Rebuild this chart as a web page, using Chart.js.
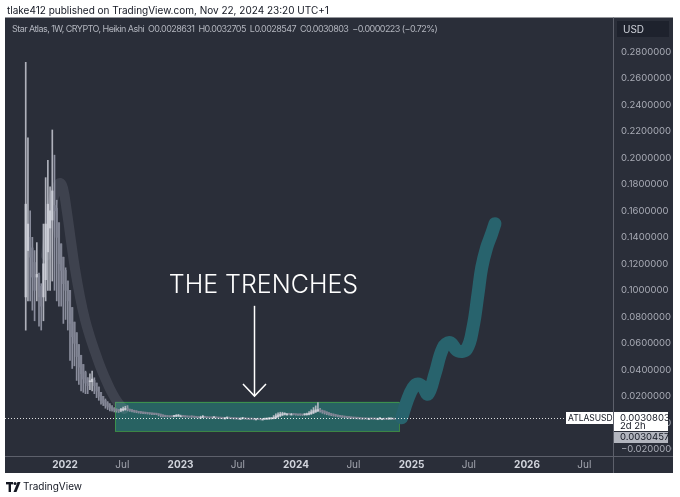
<!DOCTYPE html>
<html>
<head>
<meta charset="utf-8">
<script src="https://cdn.jsdelivr.net/npm/chart.js@4.4.1/dist/chart.umd.min.js"></script>
<style>
  html, body { margin: 0; padding: 0; background: #fff; }
  canvas { display: block; }
</style>
</head>
<body>
<canvas id="atlas" width="680" height="497"></canvas>
<script>
// ATLASUSD weekly Heikin Ashi candles, first candle = week of 30 Aug 2021 (decimal years)
const firstWeek = 2021.660;

const haOpen = [
  0.095, 0.130, 0.140, 0.132, 0.121, 0.110, 0.111, 0.103, 0.095, 0.108,
  0.129, 0.147, 0.153, 0.164, 0.162, 0.151, 0.135, 0.125, 0.115, 0.107,
  0.100, 0.087, 0.076, 0.068, 0.059, 0.051, 0.044, 0.038, 0.034, 0.031,
  0.031, 0.032, 0.030, 0.027, 0.023, 0.020, 0.017, 0.015, 0.0135, 0.012,
  0.011, 0.0102, 0.0097, 0.0094, 0.0096, 0.0100, 0.0104, 0.0102, 0.0098, 0.0094,
  0.0090, 0.0086, 0.0083, 0.0080, 0.0078, 0.0076, 0.0074, 0.0072, 0.0070, 0.0069,
  0.0067, 0.0065, 0.0060, 0.0056, 0.0053, 0.0050, 0.0049, 0.0048, 0.0049, 0.0051,
  0.0052, 0.0052, 0.0051, 0.0049, 0.0047, 0.0046, 0.0046, 0.0045, 0.0044, 0.0042,
  0.0042, 0.0043, 0.0042, 0.0041, 0.0040, 0.0039, 0.0040, 0.0039, 0.0038, 0.0037,
  0.0036, 0.0036, 0.0037, 0.0036, 0.0035, 0.0034, 0.0033, 0.0032, 0.0032, 0.0032,
  0.0032, 0.0031, 0.0030, 0.0029, 0.0029, 0.0029, 0.0028, 0.0028, 0.0028, 0.0028,
  0.0029, 0.0031, 0.0032, 0.0037, 0.0045, 0.0052, 0.0059, 0.0064, 0.0066, 0.0066,
  0.0066, 0.0066, 0.0065, 0.0064, 0.0062, 0.0062, 0.0061, 0.0061, 0.0063, 0.0068,
  0.0075, 0.0083, 0.0091, 0.0095, 0.0094, 0.0089, 0.0082, 0.0076, 0.0071, 0.0066,
  0.0062, 0.0058, 0.0055, 0.0052, 0.0049, 0.0047, 0.0045, 0.0043, 0.0041, 0.0039,
  0.0038, 0.0037, 0.0035, 0.0033, 0.0032, 0.0032, 0.0032, 0.0032, 0.0031, 0.0031,
  0.0031, 0.0031, 0.0031, 0.0030, 0.0029, 0.0029, 0.0030, 0.0030, 0.0028631
];
const haHigh = [
  0.272, 0.215, 0.160, 0.140, 0.130, 0.136, 0.113, 0.105, 0.150, 0.185,
  0.198, 0.178, 0.221, 0.202, 0.168, 0.151, 0.135, 0.125, 0.117, 0.107,
  0.100, 0.087, 0.076, 0.068, 0.059, 0.051, 0.044, 0.039, 0.034, 0.037,
  0.039, 0.034, 0.030, 0.027, 0.023, 0.020, 0.018, 0.016, 0.0145, 0.013,
  0.0115, 0.0106, 0.0100, 0.0110, 0.0118, 0.0125, 0.0130, 0.0104, 0.0099, 0.0095,
  0.0091, 0.0087, 0.0084, 0.0081, 0.0079, 0.0077, 0.0075, 0.0073, 0.0071, 0.0070,
  0.0068, 0.0066, 0.0061, 0.0057, 0.0054, 0.0051, 0.0050, 0.0056, 0.0062, 0.0063,
  0.0058, 0.0054, 0.0052, 0.0050, 0.0048, 0.0052, 0.0047, 0.0046, 0.0045, 0.0050,
  0.0055, 0.0047, 0.0044, 0.0042, 0.0041, 0.0046, 0.0042, 0.0040, 0.0039, 0.0038,
  0.0041, 0.0044, 0.0039, 0.0037, 0.0036, 0.0035, 0.0034, 0.0038, 0.0040, 0.0035,
  0.0033, 0.0032, 0.0031, 0.0030, 0.0033, 0.0031, 0.0029, 0.0032, 0.0034, 0.0036,
  0.0040, 0.0038, 0.0055, 0.0068, 0.0075, 0.0080, 0.0080, 0.0076, 0.0072, 0.0070,
  0.0071, 0.0068, 0.0066, 0.0065, 0.0066, 0.0064, 0.0068, 0.0073, 0.0085, 0.0098,
  0.0115, 0.0128, 0.0153, 0.0110, 0.0096, 0.0090, 0.0083, 0.0077, 0.0072, 0.0067,
  0.0063, 0.0059, 0.0056, 0.0053, 0.0050, 0.0048, 0.0046, 0.0044, 0.0042, 0.0040,
  0.0039, 0.0038, 0.0036, 0.0034, 0.0034, 0.0036, 0.0034, 0.0033, 0.0032, 0.0035,
  0.0038, 0.0034, 0.0032, 0.0031, 0.0037, 0.0036, 0.0032, 0.0031, 0.0032705
];
const haLow = [
  0.070, 0.092, 0.092, 0.085, 0.077, 0.092, 0.073, 0.070, 0.077, 0.092,
  0.100, 0.100, 0.107, 0.100, 0.092, 0.088, 0.088, 0.075, 0.078, 0.070,
  0.047, 0.041, 0.043, 0.032, 0.029, 0.024, 0.023, 0.022, 0.022, 0.025,
  0.024, 0.022, 0.019, 0.017, 0.014, 0.013, 0.011, 0.010, 0.009, 0.0088,
  0.0082, 0.0080, 0.0078, 0.0085, 0.0090, 0.0095, 0.0090, 0.0086, 0.0082, 0.0079,
  0.0076, 0.0073, 0.0071, 0.0069, 0.0068, 0.0066, 0.0064, 0.0062, 0.0062, 0.0061,
  0.0052, 0.0045, 0.0044, 0.0045, 0.0044, 0.0043, 0.0044, 0.0045, 0.0047, 0.0048,
  0.0047, 0.0045, 0.0043, 0.0042, 0.0041, 0.0041, 0.0040, 0.0038, 0.0036, 0.0038,
  0.0039, 0.0038, 0.0036, 0.0035, 0.0035, 0.0036, 0.0035, 0.0033, 0.0031, 0.0030,
  0.0032, 0.0033, 0.0032, 0.0030, 0.0028, 0.0027, 0.0026, 0.0028, 0.0029, 0.0027,
  0.0025, 0.0024, 0.0025, 0.0023, 0.0025, 0.0024, 0.0022, 0.0024, 0.0025, 0.0026,
  0.0027, 0.0028, 0.0030, 0.0034, 0.0041, 0.0048, 0.0055, 0.0059, 0.0060, 0.0059,
  0.0060, 0.0059, 0.0057, 0.0056, 0.0056, 0.0055, 0.0057, 0.0058, 0.0060, 0.0064,
  0.0070, 0.0078, 0.0085, 0.0080, 0.0072, 0.0066, 0.0061, 0.0057, 0.0054, 0.0050,
  0.0048, 0.0045, 0.0042, 0.0040, 0.0038, 0.0036, 0.0034, 0.0032, 0.0031, 0.0030,
  0.0029, 0.0027, 0.0025, 0.0026, 0.0027, 0.0028, 0.0027, 0.0026, 0.0026, 0.0027,
  0.0028, 0.0027, 0.0025, 0.0024, 0.0026, 0.0027, 0.0026, 0.0025, 0.0028547
];
const haClose = [
  0.165, 0.150, 0.125, 0.110, 0.100, 0.112, 0.095, 0.088, 0.120, 0.150,
  0.165, 0.160, 0.175, 0.160, 0.140, 0.120, 0.115, 0.105, 0.100, 0.092,
  0.075, 0.065, 0.060, 0.050, 0.042, 0.037, 0.033, 0.030, 0.028, 0.0315,
  0.033, 0.028, 0.024, 0.020, 0.017, 0.015, 0.013, 0.012, 0.011, 0.010,
  0.0095, 0.0092, 0.0090, 0.0098, 0.0105, 0.0108, 0.0100, 0.0094, 0.0090, 0.0086,
  0.0082, 0.0079, 0.0077, 0.0075, 0.0074, 0.0072, 0.0070, 0.0068, 0.0067, 0.0066,
  0.0062, 0.0056, 0.0052, 0.0050, 0.0048, 0.0047, 0.0047, 0.0050, 0.0053, 0.0054,
  0.0052, 0.0049, 0.0047, 0.0046, 0.0045, 0.0045, 0.0044, 0.0042, 0.0041, 0.0042,
  0.0043, 0.0042, 0.0040, 0.0039, 0.0039, 0.0040, 0.0039, 0.0037, 0.0036, 0.0035,
  0.0036, 0.0037, 0.0036, 0.0034, 0.0033, 0.0032, 0.0031, 0.0032, 0.0033, 0.0031,
  0.0030, 0.0029, 0.0029, 0.0028, 0.0029, 0.0028, 0.0027, 0.0028, 0.0029, 0.0030,
  0.0032, 0.0033, 0.0042, 0.0052, 0.0060, 0.0066, 0.0069, 0.0068, 0.0066, 0.0065,
  0.0066, 0.0064, 0.0062, 0.0061, 0.0061, 0.0060, 0.0062, 0.0065, 0.0072, 0.0082,
  0.0092, 0.0098, 0.0100, 0.0092, 0.0083, 0.0076, 0.0070, 0.0065, 0.0061, 0.0057,
  0.0054, 0.0051, 0.0048, 0.0046, 0.0044, 0.0042, 0.0040, 0.0038, 0.0037, 0.0036,
  0.0035, 0.0033, 0.0031, 0.0031, 0.0031, 0.0032, 0.0031, 0.0030, 0.0030, 0.0031,
  0.0032, 0.0031, 0.0029, 0.0028, 0.0030, 0.0031, 0.0029, 0.0028, 0.0030803
];

// wide translucent moving-average ribbon
const emaTimes  = [2021.836, 2021.887, 2021.931, 2021.957, 2021.983, 2022.017, 2022.052, 2022.087, 2022.130,
                   2022.173, 2022.216, 2022.260, 2022.303, 2022.346, 2022.390, 2022.433, 2022.476, 2022.511];
const emaValues = [0.126, 0.164, 0.178, 0.181, 0.177, 0.159, 0.137, 0.116, 0.095,
                   0.078, 0.065, 0.0535, 0.043, 0.034, 0.0255, 0.0187, 0.0134, 0.0104];

// hand-drawn projection stroke
const projTimes  = [2024.915, 2024.961, 2025.013, 2025.056, 2025.100, 2025.143, 2025.203, 2025.273, 2025.333,
                    2025.403, 2025.478, 2025.532, 2025.576, 2025.608, 2025.651, 2025.694, 2025.723];
const projValues = [0.0038, 0.0164, 0.0265, 0.0293, 0.0270, 0.0217, 0.0368, 0.0567, 0.0605,
                    0.0542, 0.0557, 0.0719, 0.0974, 0.1172, 0.1324, 0.1427, 0.1503];

// "the trenches" rectangle (time / price)
const trenchFrom = 2022.433, trenchTo = 2024.892, trenchHigh = 0.0159, trenchLow = -0.0063;

const xTickPositions = [2022, 2022.496, 2023, 2023.496, 2024, 2024.497, 2025, 2025.496, 2026, 2026.496];
const xTickLabels = ['2022', 'Jul', '2023', 'Jul', '2024', 'Jul', '2025', 'Jul', '2026', 'Jul'];
const yTickValues = [-0.02, 0, 0.02, 0.04, 0.06, 0.08, 0.10, 0.12, 0.14, 0.16, 0.18, 0.20, 0.22, 0.24, 0.26, 0.28];

const lastPrice = 0.0030803;
const prevPrice = 0.0030457;

const titleText = 'tlake412 published on TradingView.com, Nov 22, 2024 23:20 UTC+1';
const legendText = 'Star Atlas, 1W, CRYPTO, Heikin Ashi  O0.0028631  H0.0032705  L0.0028547  C0.0030803  \u22120.0000223 (\u22120.72%)';

const FONT = 'Inter, "Noto Sans", sans-serif';
const BG = '#2a2e39';

const weekTimes = haClose.map((_, i) => firstWeek + i * 7 / 365.25);
const isUp = haClose.map((c, i) => c >= haOpen[i]);

const frame = {
  id: 'frame',
  beforeDraw(chart) {
    const c = chart.ctx;
    c.save();
    c.fillStyle = '#ffffff';
    c.fillRect(0, 0, chart.width, chart.height);
    c.fillStyle = BG;
    c.fillRect(5, 17.5, 668, 455.5);
    c.fillStyle = '#131722';
    c.font = '10px ' + FONT;
    c.textBaseline = 'middle';
    c.fillText(titleText, 7, 10.5);
    // logo mark
    c.fillRect(6, 482, 7, 2.4);
    c.fillRect(8.6, 482, 2.4, 10);
    c.beginPath(); c.arc(15, 483.4, 1.5, 0, Math.PI * 2); c.fill();
    c.beginPath(); c.moveTo(17.5, 482); c.lineTo(20.5, 482); c.lineTo(16.5, 492); c.lineTo(13.5, 492); c.fill();
    c.font = '10px ' + FONT;
    c.fillText('TradingView', 23, 487);
    c.restore();
  }
};

const trenchBox = {
  id: 'trenchBox',
  beforeDatasetsDraw(chart) {
    const c = chart.ctx, x = chart.scales.x, y = chart.scales.y;
    const l = x.getPixelForValue(trenchFrom), r = x.getPixelForValue(trenchTo);
    const t = y.getPixelForValue(trenchHigh), b = y.getPixelForValue(trenchLow);
    c.save();
    c.fillStyle = 'rgba(38,150,140,0.5)';
    c.fillRect(l, t, r - l, b - t);
    c.strokeStyle = 'rgba(67,160,71,0.75)';
    c.lineWidth = 1;
    c.strokeRect(Math.round(l) + 0.5, Math.round(t) + 0.5, Math.round(r - l), Math.round(b - t));
    c.restore();
  }
};

const notes = {
  id: 'notes',
  afterDatasetsDraw(chart) {
    const c = chart.ctx, x = chart.scales.x, y = chart.scales.y, a = chart.chartArea;
    c.save();
    // last price dotted line
    const py = Math.round(y.getPixelForValue(lastPrice)) - 0.5;
    c.strokeStyle = 'rgba(255,255,255,0.85)';
    c.setLineDash([1, 2]);
    c.lineWidth = 1;
    c.beginPath(); c.moveTo(a.left, py); c.lineTo(a.right, py); c.stroke();
    c.setLineDash([]);
    // label + arrow
    c.fillStyle = '#ffffff';
    c.font = '300 25px ' + FONT;
    c.textAlign = 'center';
    c.textBaseline = 'alphabetic';
    c.fillText('THE TRENCHES', x.getPixelForValue(2023.718), y.getPixelForValue(0.0983));
    const ax = Math.round(x.getPixelForValue(2023.639)) + 0.5;
    const top = y.getPixelForValue(0.0883), tip = y.getPixelForValue(0.0202);
    c.strokeStyle = '#ffffff';
    c.lineWidth = 1.5;
    c.beginPath(); c.moveTo(ax, top); c.lineTo(ax, tip); c.stroke();
    c.beginPath(); c.moveTo(ax - 11.5, tip - 12); c.lineTo(ax, tip); c.lineTo(ax + 11.5, tip - 12); c.stroke();
    c.restore();
  },
  afterDraw(chart) {
    const c = chart.ctx, y = chart.scales.y, a = chart.chartArea;
    c.save();
    // separators
    c.strokeStyle = '#5d606b';
    c.lineWidth = 1;
    c.beginPath(); c.moveTo(a.right + 0.5, 17.5); c.lineTo(a.right + 0.5, 473); c.stroke();
    c.beginPath(); c.moveTo(5, a.bottom + 0.5); c.lineTo(673, a.bottom + 0.5); c.stroke();
    // legend: 9px, tightened so it spans the same width as the screenshot
    c.fillStyle = '#b2b5be';
    c.font = '9px ' + FONT;
    const w = c.measureText(legendText).width;
    c.letterSpacing = ((425 - w) / legendText.length).toFixed(2) + 'px';
    c.textBaseline = 'middle';
    c.fillText(legendText, 12, 29);
    c.letterSpacing = '0px';
    // currency box
    c.font = '10px ' + FONT;
    c.fillStyle = '#1e222d';
    c.fillRect(617, 21, 52, 16);
    c.fillStyle = '#d1d4dc';
    c.fillText('USD', 623, 29.5);
    // price tags
    const py = Math.round(y.getPixelForValue(lastPrice)) - 1;
    c.fillStyle = '#ffffff';
    c.fillRect(566, py - 6, 47, 12);
    c.fillRect(a.right + 1, py - 6, 54, 19);
    c.fillStyle = '#131722';
    c.font = '8.5px ' + FONT;
    c.fillText('ATLASUSD', 568, py + 0.5);
    c.font = '9.5px ' + FONT;
    c.fillText(lastPrice.toFixed(7), 620, py);
    c.fillText('2d 2h', 620, py + 8);
    c.fillStyle = '#b2b5be';
    c.fillRect(a.right + 1, py + 14, 54, 11);
    c.fillStyle = '#131722';
    c.fillText(prevPrice.toFixed(7), 620, py + 19.5);
    c.restore();
  }
};

new Chart(document.getElementById('atlas'), {
  type: 'bar',
  data: {
    datasets: [
      {
        type: 'line',
        label: 'projection',
        data: projTimes.map((t, i) => ({ x: t, y: projValues[i] })),
        borderColor: '#28636d',
        borderWidth: 13,
        borderCapStyle: 'round',
        borderJoinStyle: 'round',
        tension: 0.4,
        pointRadius: 0,
        order: 0
      },
      {
        label: 'bodies',
        data: weekTimes.map((t, i) => ({ x: t, y: [haOpen[i], haClose[i]] })),
        backgroundColor: isUp.map(u => u ? 'rgba(205,207,216,0.9)' : 'rgba(128,131,146,0.9)'),
        barThickness: 1.6,
        minBarLength: 1,
        grouped: false,
        order: 1
      },
      {
        label: 'wicks',
        data: weekTimes.map((t, i) => ({ x: t, y: [haLow[i], haHigh[i]] })),
        backgroundColor: isUp.map(u => u ? 'rgba(190,192,202,0.9)' : 'rgba(150,153,168,0.9)'),
        barThickness: 1,
        grouped: false,
        order: 2
      },
      {
        type: 'line',
        label: 'ema',
        data: emaTimes.map((t, i) => ({ x: t, y: emaValues[i] })),
        borderColor: 'rgba(165,168,185,0.17)',
        borderWidth: 10,
        borderCapStyle: 'round',
        borderJoinStyle: 'round',
        tension: 0.4,
        pointRadius: 0,
        order: 3
      }
    ]
  },
  options: {
    responsive: false,
    animation: false,
    devicePixelRatio: 1,
    layout: { padding: { left: 5, top: 18, right: 8, bottom: 24 } },
    plugins: { legend: { display: false }, tooltip: { enabled: false } },
    scales: {
      x: {
        type: 'linear',
        min: 2021.4805,
        max: 2026.7446,
        offset: false,
        grid: { display: false, drawTicks: false, offset: false },
        border: { display: false },
        afterBuildTicks: s => { s.ticks = xTickPositions.map(v => ({ value: v })); },
        afterFit: s => { s.height = 17; },
        ticks: {
          autoSkip: false,
          maxRotation: 0,
          padding: 3,
          callback: (v, i) => xTickLabels[i],
          color: ctx => xTickLabels[ctx.index] === 'Jul' ? '#a3a6af' : '#d1d4dc',
          font: ctx => ({ family: FONT, size: 10, weight: xTickLabels[ctx.index] === 'Jul' ? 'normal' : 'bold' })
        }
      },
      y: {
        position: 'right',
        min: -0.02504,
        max: 0.3055,
        grid: { display: false, drawTicks: false },
        border: { display: false },
        afterBuildTicks: s => { s.ticks = yTickValues.map(v => ({ value: v })); },
        afterFit: s => { s.width = 59; },
        ticks: {
          autoSkip: false,
          padding: 8,
          crossAlign: 'near',
          color: '#a9acb6',
          font: { family: FONT, size: 9.5 },
          callback: v => (v < 0 ? '\u2212' : '') + Math.abs(v).toFixed(7)
        }
      }
    }
  },
  plugins: [frame, trenchBox, notes]
});
</script>
</body>
</html>
